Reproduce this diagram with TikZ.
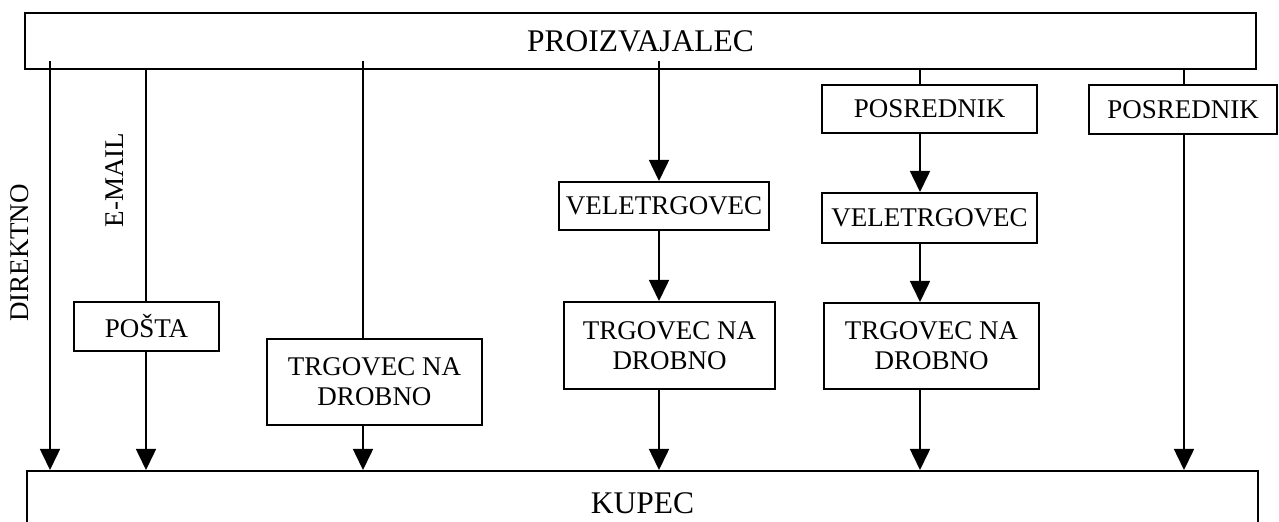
\documentclass[tikz,border=0pt]{standalone}
\usepackage{fontspec}
\setmainfont{Liberation Serif}
\usetikzlibrary{arrows.meta,calc}
\tikzset{
  box/.style={draw, line width=1pt, inner sep=0pt, align=center, font=\fontsize{13.5}{15}\selectfont},
  bigbox/.style={box, font=\fontsize{15.75}{18}\selectfont},
  conn/.style={line width=0.8pt},
  arr/.style={conn, -{Triangle[width=10pt,length=10.5pt]}},
  vlabel/.style={rotate=90, inner sep=0pt, font=\fontsize{13.5}{15}\selectfont}
}
\begin{document}
\begin{tikzpicture}[x=0.5pt,y=-0.5pt]
\useasboundingbox (0,0) rectangle (1279,522);
% main boxes
\node[bigbox, minimum width=615.5pt, minimum height=28pt] (prod) at (640.5,41) {PROIZVAJALEC};
\node[bigbox, minimum width=615.5pt, minimum height=32pt] (kupec) at (642.5,503) {KUPEC};
% channel x positions
\coordinate (l1) at (50,0);
\coordinate (l2) at (146,0);
\coordinate (l3) at (363,0);
\coordinate (l4) at (659,0);
\coordinate (l5) at (920,0);
\coordinate (l6) at (1184,0);
% intermediate boxes
\node[box, minimum width=72.5pt, minimum height=24.5pt] (posta) at (146.5,326.5) {POŠTA};
\node[box, minimum width=107.5pt, minimum height=43pt] (trg1) at (374.5,382) {TRGOVEC NA\\DROBNO};
\node[box, minimum width=105pt, minimum height=24pt] (vel1) at (664,206) {VELETRGOVEC};
\node[box, minimum width=105.5pt, minimum height=43.5pt] (trg2) at (669.5,345.5) {TRGOVEC NA\\DROBNO};
\node[box, minimum width=107.5pt, minimum height=24pt] (pos1) at (929.5,109) {POSREDNIK};
\node[box, minimum width=107.5pt, minimum height=25pt] (vel2) at (929.5,218) {VELETRGOVEC};
\node[box, minimum width=107.5pt, minimum height=43pt] (trg3) at (931.5,346) {TRGOVEC NA\\DROBNO};
\node[box, minimum width=94pt, minimum height=24.5pt] (pos2) at (1183,109.5) {POSREDNIK};
% rotated labels
\node[vlabel] (direktno) at (20,253) {DIREKTNO};
\node[vlabel] (email) at (115,180) {E-MAIL};
% connectors
\draw[arr] ($(prod.south -| l1)+(0,-9)$) -- (kupec.north -| l1);
\draw[conn] (prod.south -| l2) -- (posta.north -| l2);
\draw[arr] (posta.south -| l2) -- (kupec.north -| l2);
\draw[conn] ($(prod.south -| l3)+(0,-9)$) -- (trg1.north -| l3);
\draw[arr] (trg1.south -| l3) -- (kupec.north -| l3);
\draw[arr] ($(prod.south -| l4)+(0,-9)$) -- (vel1.north -| l4);
\draw[arr] (vel1.south -| l4) -- (trg2.north -| l4);
\draw[arr] (trg2.south -| l4) -- (kupec.north -| l4);
\draw[conn] (prod.south -| l5) -- (pos1.north -| l5);
\draw[arr] (pos1.south -| l5) -- (vel2.north -| l5);
\draw[arr] (vel2.south -| l5) -- (trg3.north -| l5);
\draw[arr] (trg3.south -| l5) -- (kupec.north -| l5);
\draw[conn] (prod.south -| l6) -- (pos2.north -| l6);
\draw[arr] (pos2.south -| l6) -- (kupec.north -| l6);
\end{tikzpicture}
\end{document}
